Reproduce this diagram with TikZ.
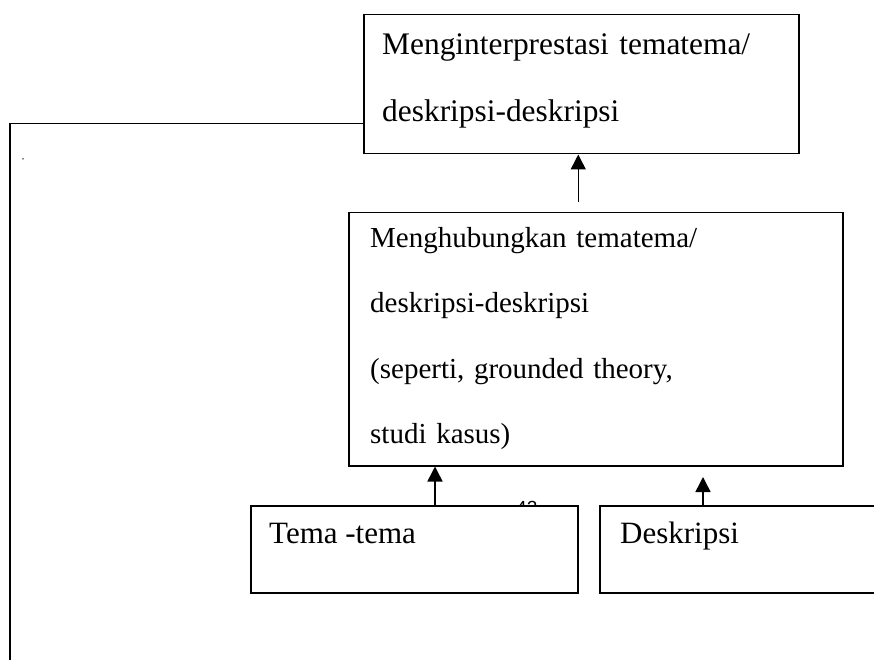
\documentclass[tikz,border=0pt]{standalone}
\usepackage{fontspec}
\setmainfont{Liberation Serif}
\newfontfamily\pagenumfont{Liberation Sans}
\usetikzlibrary{arrows.meta}

\tikzset{
  box/.style={draw, line width=1.5pt, fill=white, inner sep=0pt, anchor=north west},
  boxtext/.style={inner sep=0pt, anchor=base west, align=left},
  arr/.style={line width=1.5pt, -{Triangle[width=15pt,length=15pt]}},
  link/.style={line width=1.8pt}
}

\begin{document}
\begin{tikzpicture}[x=1pt, y=-1pt]
  \useasboundingbox (0,0) rectangle (874,660);

  % page number peeking out behind the left box
  \node[inner sep=0pt, anchor=base west, font=\pagenumfont\fontsize{19}{19}\selectfont] (pagenum) at (516,514) {42};

  % boxes
  \node[box, minimum width=435pt, minimum height=139pt] (top) at (363,14) {};
  \node[box, minimum width=494pt, minimum height=253pt] (mid) at (348,212) {};
  \node[box, minimum width=327pt, minimum height=87pt] (tema) at (250,505) {};
  \node[box, minimum width=290pt, minimum height=87pt] (desk) at (599,505) {};

  % box texts
  \node[boxtext, text width=410pt, font=\fontsize{31.4}{67}\selectfont] (toptext) at (382,55)
    {Menginterprestasi tematema/\\deskripsi-deskripsi};
  \node[boxtext, text width=440pt, font=\fontsize{29}{65.5}\selectfont] (midtext) at (370,247)
    {Menghubungkan tematema/\\deskripsi-deskripsi\\(seperti, grounded theory,\\studi kasus)};
  \node[boxtext, font=\fontsize{31}{31}\selectfont] (tematext) at (269,543) {Tema -tema};
  \node[boxtext, font=\fontsize{31}{31}\selectfont] (desktext) at (620,543) {Deskripsi};

  % arrows
  \draw[arr] ([xshift=-3pt, yshift=-48pt]top.south) -- ([xshift=-3pt]top.south);
  \draw[arr] ([xshift=185pt]tema.north west) -- ([xshift=185pt]tema.north west |- mid.south);
  \draw[arr] ([xshift=104pt]desk.north west) -- ([xshift=104pt, yshift=28pt]desk.north west);

  % feedback line on the left
  \coordinate (loopend) at (10,660);
  \draw[link] ([yshift=31pt]top.south west) -| (loopend);

  % stray dot
  \node[circle, fill, inner sep=0pt, minimum size=1.5pt] (dot) at (23,159) {};
\end{tikzpicture}
\end{document}
